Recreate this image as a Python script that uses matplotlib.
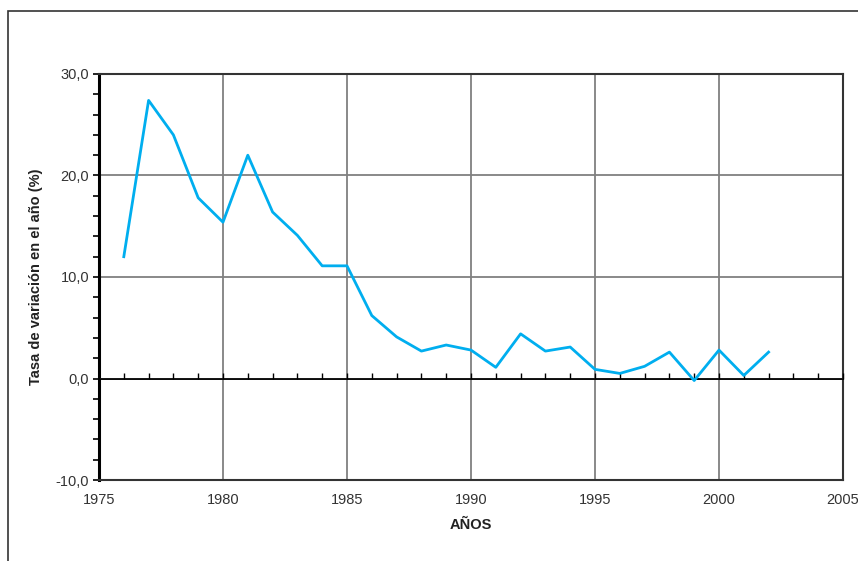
import matplotlib.pyplot as plt
from matplotlib.patches import Rectangle
from matplotlib.ticker import MultipleLocator, FuncFormatter

years = list(range(1976, 2003))
tasa = [12.0, 27.4, 24.0, 17.8, 15.4, 22.0, 16.4, 14.1, 11.1, 11.1,
        6.2, 4.1, 2.7, 3.3, 2.8, 1.1, 4.4, 2.7, 3.1, 0.9,
        0.5, 1.2, 2.6, -0.2, 2.8, 0.3, 2.6]

fig = plt.figure(figsize=(8.58, 5.61), dpi=100)
plt.rcParams['font.family'] = ['Liberation Sans', 'DejaVu Sans']

# outer frame (runs off the right and bottom edges)
fig.patches.append(Rectangle((8 / 858, -0.05), 1.2, 1 - 11 / 561 + 0.05,
                             transform=fig.transFigure, fill=False,
                             edgecolor='#333333', linewidth=1.2))

ax = fig.add_axes([99 / 858, 1 - 480 / 561, 744 / 858, 406 / 561])
ax.plot(years, tasa, color='#00aeef', linewidth=2.0, zorder=3)

ax.set_xlim(1975, 2005)
ax.set_ylim(-10, 30)
ax.xaxis.set_major_locator(MultipleLocator(5))
ax.yaxis.set_major_locator(MultipleLocator(10))
ax.yaxis.set_minor_locator(MultipleLocator(2))
ax.yaxis.set_major_formatter(FuncFormatter(lambda v, p: ('%.1f' % v).replace('.', ',')))
ax.grid(True, which='major', color='#808080', linewidth=1.3)
ax.set_axisbelow(True)

ax.tick_params(axis='x', length=0, labelsize=10.5, labelcolor='#333333', pad=9)
ax.tick_params(axis='y', which='both', direction='out', length=4, width=1.2,
               labelsize=10.5, labelcolor='#333333', pad=3)

for side in ['top', 'right', 'bottom']:
    ax.spines[side].set_color('#333333')
    ax.spines[side].set_linewidth(1.5)
ax.spines['left'].set_color('black')
ax.spines['left'].set_linewidth(2.2)

# horizontal axis at 0 with yearly ticks
zero = ax.secondary_xaxis(0.25)
zero.xaxis.set_major_locator(MultipleLocator(1))
zero.tick_params(direction='in', length=4, width=1.0, labelbottom=False)
zero.spines['bottom'].set_color('black')
zero.spines['bottom'].set_linewidth(1.3)
zero.set_zorder(2.5)

ax.set_ylabel('Tasa de variación en el año (%)', fontsize=10.5, fontweight='bold',
              color='#222222', labelpad=9)
ax.set_xlabel('AÑOS', fontsize=10.5, fontweight='bold', color='#222222', labelpad=8)

fig.savefig('out.png', dpi=100)
